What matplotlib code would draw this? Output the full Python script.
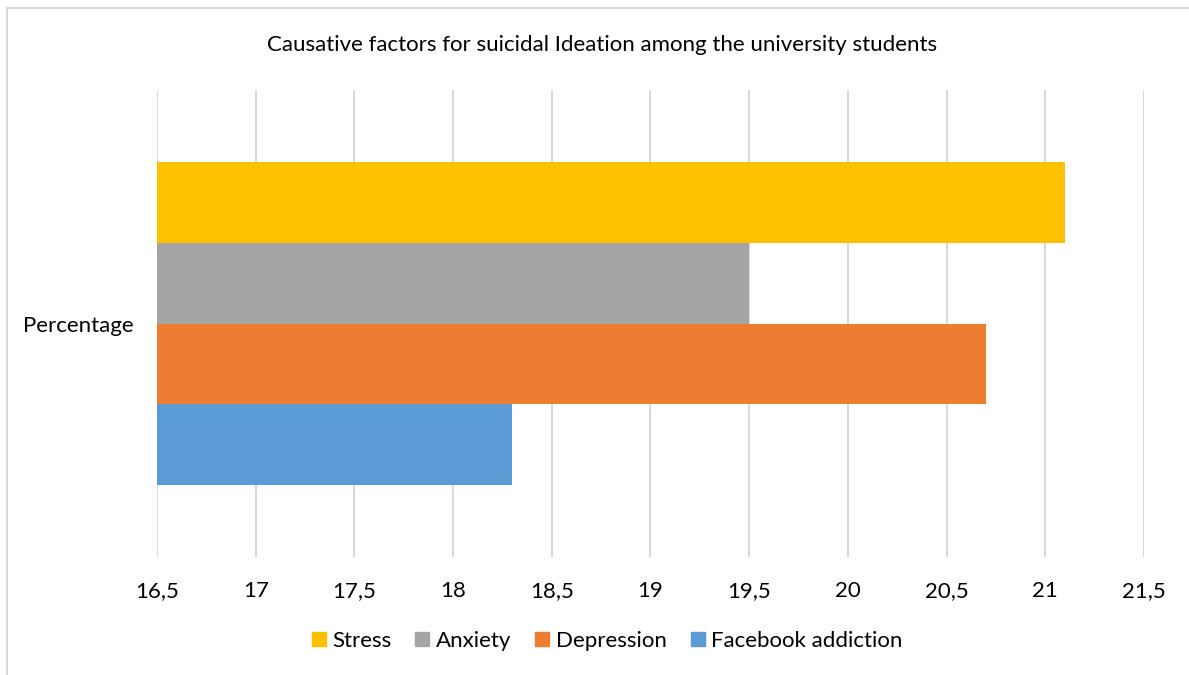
import matplotlib
matplotlib.use("Agg")
import matplotlib.pyplot as plt
from matplotlib.lines import Line2D
from matplotlib.ticker import FuncFormatter, MultipleLocator

plt.rcParams["font.family"] = ["Lato", "DejaVu Sans"]

category = "Percentage"
series = ["Stress", "Anxiety", "Depression", "Facebook addiction"]
values = [21.1, 19.5, 20.7, 18.3]
colors = ["#FFC000", "#A5A5A5", "#ED7D31", "#5B9BD5"]
x_min, x_max = 16.5, 21.5

fig = plt.figure(figsize=(11.89, 6.75), dpi=100)
ax = fig.add_axes([157 / 1189, 1 - 557 / 675, (1144 - 157) / 1189, (557 - 90) / 675])

bar_h = 0.1725
n = len(series)
for i, (name, val, col) in enumerate(zip(series, values, colors)):
    offset = ((n - 1) / 2 - i) * bar_h
    ax.barh(offset, val - x_min, left=x_min, height=bar_h, color=col,
            label=name, zorder=2)

ax.set_xlim(x_min, x_max)
ax.set_ylim(-0.5, 0.5)
ax.xaxis.set_major_locator(MultipleLocator(0.5))
ax.xaxis.set_major_formatter(FuncFormatter(lambda v, p: f"{v:g}".replace(".", ",")))
ax.set_yticks([0])
ax.set_yticklabels([category])
ax.grid(axis="x", color="#D9D9D9", linewidth=1.5, zorder=0)
for s in ax.spines.values():
    s.set_visible(False)
ax.tick_params(axis="both", length=0, labelsize=16, colors="black")
ax.tick_params(axis="x", pad=17)
ax.tick_params(axis="y", pad=17)

fig.text(602 / 1189, 1 - 45 / 675, "Causative factors for suicidal Ideation among the university students",
         ha="center", va="center", fontsize=16)

handles = [Line2D([0], [0], marker="s", linestyle="none", markersize=10,
                  markerfacecolor=c, markeredgecolor=c) for c in colors]
fig.legend(handles, series, loc="center", bbox_to_anchor=(605 / 1189, 1 - 641 / 675),
           ncol=4, frameon=False, fontsize=16, handletextpad=0.1, columnspacing=0.9,
           handlelength=1.0)

# frame lines along the top and left edges
fig.add_artist(Line2D([7 / 1189, 1], [1 - 8 / 675, 1 - 8 / 675], color="#D9D9D9", linewidth=1.5))
fig.add_artist(Line2D([7 / 1189, 7 / 1189], [0, 1 - 8 / 675], color="#D9D9D9", linewidth=1.5))

fig.savefig("out.png", dpi=100, facecolor="white")
